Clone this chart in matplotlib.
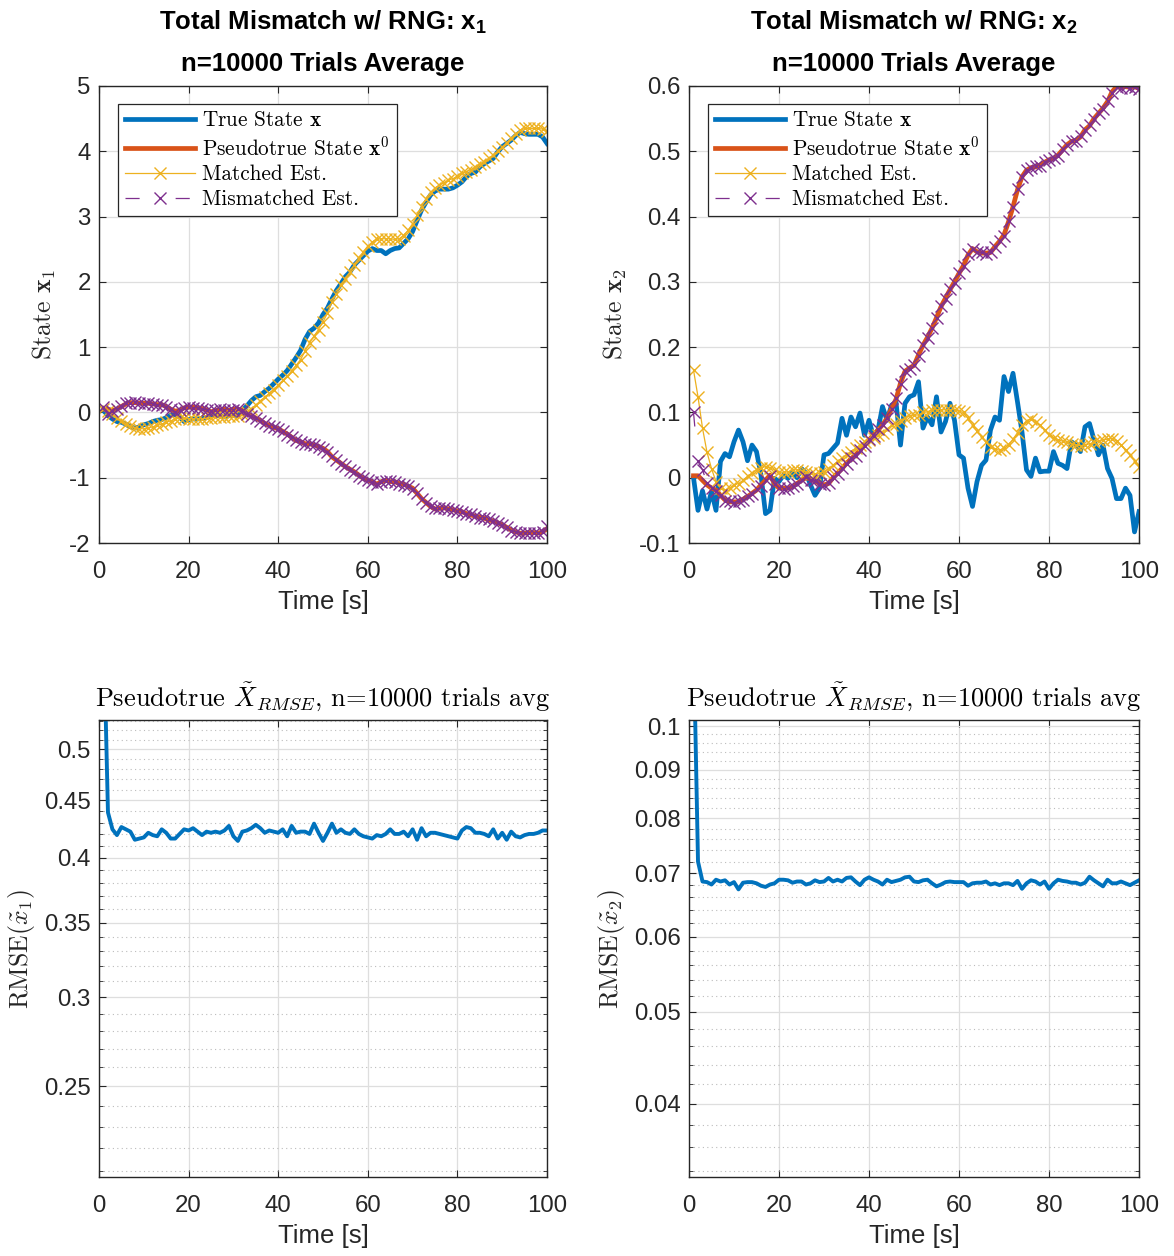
import numpy as np
import matplotlib
matplotlib.use("Agg")
import matplotlib.pyplot as plt
from matplotlib.font_manager import FontProperties
from matplotlib.ticker import FixedLocator, FuncFormatter, NullFormatter

# ---------------- data ----------------
t = list(range(1, 101))

x1_true = [0.03, -0.05, -0.10, -0.14, -0.15, -0.18, -0.22, -0.24, -0.22, -0.19,
           -0.17, -0.14, -0.12, -0.11, -0.08, -0.04, -0.03, -0.07, -0.14, -0.11,
           -0.10, -0.10, -0.09, -0.08, -0.05, -0.05, -0.05, -0.07, -0.05, -0.05,
           -0.04, 0.03, 0.10, 0.18, 0.24, 0.26, 0.32, 0.37, 0.44, 0.51,
           0.57, 0.64, 0.74, 0.84, 0.95, 1.12, 1.24, 1.29, 1.37, 1.50,
           1.60, 1.74, 1.87, 1.97, 2.08, 2.15, 2.26, 2.33, 2.40, 2.47,
           2.51, 2.48, 2.48, 2.43, 2.48, 2.51, 2.52, 2.59, 2.66, 2.77,
           2.94, 3.10, 3.22, 3.33, 3.39, 3.42, 3.42, 3.42, 3.44, 3.48,
           3.53, 3.61, 3.66, 3.68, 3.76, 3.81, 3.85, 3.89, 3.99, 4.07,
           4.12, 4.17, 4.24, 4.29, 4.27, 4.26, 4.26, 4.26, 4.22, 4.12]

x1_pseudo = [0.05, 0.05, 0.03, 0.05, 0.09, 0.13, 0.15, 0.15, 0.14, 0.14,
             0.14, 0.13, 0.12, 0.12, 0.09, 0.05, 0.02, 0.03, 0.07, 0.08,
             0.08, 0.07, 0.06, 0.04, 0.01, 0.03, 0.04, 0.05, 0.03, 0.05,
             0.05, 0.03, -0.02, -0.05, -0.09, -0.12, -0.17, -0.20, -0.23, -0.25,
             -0.29, -0.33, -0.38, -0.43, -0.45, -0.48, -0.48, -0.50, -0.52, -0.55,
             -0.60, -0.68, -0.73, -0.78, -0.83, -0.87, -0.91, -0.96, -1.01, -1.04,
             -1.06, -1.10, -1.06, -1.04, -1.06, -1.06, -1.09, -1.10, -1.13, -1.16,
             -1.24, -1.32, -1.38, -1.44, -1.48, -1.47, -1.46, -1.48, -1.49, -1.51,
             -1.52, -1.55, -1.57, -1.59, -1.60, -1.62, -1.65, -1.66, -1.69, -1.72,
             -1.76, -1.80, -1.83, -1.85, -1.85, -1.84, -1.84, -1.85, -1.83, -1.78]

x1_matched = [0.05, 0.02, -0.03, -0.08, -0.13, -0.18, -0.21, -0.24, -0.25, -0.25,
              -0.24, -0.22, -0.20, -0.18, -0.15, -0.13, -0.10, -0.09, -0.09, -0.10,
              -0.10, -0.10, -0.10, -0.09, -0.08, -0.07, -0.07, -0.07, -0.06, -0.06,
              -0.05, -0.03, 0.01, 0.06, 0.11, 0.18, 0.23, 0.29, 0.35, 0.42,
              0.49, 0.56, 0.63, 0.72, 0.81, 0.94, 1.07, 1.17, 1.27, 1.39,
              1.52, 1.69, 1.82, 1.95, 2.05, 2.15, 2.26, 2.36, 2.46, 2.55,
              2.61, 2.65, 2.66, 2.66, 2.66, 2.65, 2.66, 2.71, 2.79, 2.89,
              3.02, 3.15, 3.27, 3.37, 3.44, 3.48, 3.52, 3.56, 3.58, 3.62,
              3.66, 3.69, 3.72, 3.76, 3.80, 3.84, 3.89, 3.94, 4.00, 4.07,
              4.13, 4.20, 4.27, 4.32, 4.35, 4.35, 4.35, 4.35, 4.34, 4.31]

x1_mismatched = [0.08, -0.02, 0.02, 0.06, 0.10, 0.14, 0.15, 0.16, 0.14, 0.13,
                 0.14, 0.13, 0.11, 0.12, 0.08, 0.05, 0.01, 0.04, 0.07, 0.08,
                 0.07, 0.07, 0.05, 0.04, 0.02, 0.03, 0.05, 0.04, 0.03, 0.04,
                 0.05, 0.02, -0.02, -0.06, -0.09, -0.13, -0.16, -0.21, -0.23, -0.26,
                 -0.29, -0.34, -0.38, -0.42, -0.46, -0.48, -0.49, -0.50, -0.53, -0.56,
                 -0.61, -0.67, -0.73, -0.79, -0.82, -0.88, -0.91, -0.97, -1.00, -1.04,
                 -1.07, -1.09, -1.06, -1.05, -1.05, -1.07, -1.09, -1.11, -1.13, -1.17,
                 -1.23, -1.32, -1.39, -1.44, -1.47, -1.47, -1.47, -1.48, -1.50, -1.51,
                 -1.53, -1.55, -1.56, -1.59, -1.61, -1.62, -1.64, -1.67, -1.69, -1.73,
                 -1.76, -1.81, -1.83, -1.84, -1.85, -1.85, -1.84, -1.84, -1.83, -1.74]

x2_true = [0.000, -0.050, -0.020, -0.048, -0.021, -0.050, 0.025, 0.037, 0.032, 0.055,
           0.073, 0.055, 0.026, 0.050, 0.040, 0.004, -0.055, -0.050, -0.001, -0.006,
           0.004, -0.001, 0.009, 0.000, 0.014, 0.007, -0.011, -0.027, -0.016, 0.035,
           0.037, 0.045, 0.053, 0.091, 0.065, 0.093, 0.078, 0.099, 0.065, 0.088,
           0.063, 0.073, 0.109, 0.088, 0.111, 0.116, 0.050, 0.114, 0.124, 0.127,
           0.147, 0.076, 0.093, 0.081, 0.124, 0.070, 0.086, 0.114, 0.088, 0.035,
           0.030, -0.016, -0.044, -0.006, 0.019, 0.027, 0.073, 0.093, 0.088, 0.155,
           0.132, 0.160, 0.116, 0.070, 0.012, 0.002, 0.030, 0.009, 0.010, 0.010,
           0.040, 0.022, 0.019, 0.014, 0.055, 0.050, 0.040, 0.078, 0.083, 0.058,
           0.035, 0.050, 0.014, -0.001, -0.032, -0.032, -0.016, -0.027, -0.083, -0.052]

x2_pseudo = [0.003, 0.003, -0.004, -0.011, -0.016, -0.019, -0.027, -0.034, -0.037, -0.037,
             -0.037, -0.033, -0.029, -0.024, -0.019, -0.011, -0.004, 0.004, -0.009, -0.016,
             -0.016, -0.016, -0.014, -0.009, -0.004, 0.000, -0.002, -0.005, -0.009, -0.011,
             -0.009, 0.000, 0.007, 0.014, 0.022, 0.029, 0.035, 0.042, 0.050, 0.058,
             0.065, 0.073, 0.081, 0.091, 0.106, 0.120, 0.145, 0.163, 0.168, 0.172,
             0.188, 0.203, 0.215, 0.229, 0.245, 0.262, 0.275, 0.288, 0.300, 0.313,
             0.325, 0.341, 0.351, 0.346, 0.344, 0.344, 0.345, 0.354, 0.362, 0.372,
             0.392, 0.415, 0.441, 0.461, 0.471, 0.475, 0.476, 0.479, 0.483, 0.487,
             0.489, 0.494, 0.502, 0.510, 0.515, 0.517, 0.522, 0.533, 0.539, 0.550,
             0.558, 0.566, 0.576, 0.591, 0.599, 0.598, 0.599, 0.598, 0.599, 0.596]

x2_matched = [0.165, 0.124, 0.076, 0.039, 0.014, -0.006, -0.016, -0.019, -0.016, -0.011,
              -0.009, -0.004, 0.002, 0.007, 0.012, 0.015, 0.017, 0.015, 0.012, 0.009,
              0.008, 0.009, 0.012, 0.012, 0.010, 0.009, 0.007, 0.005, 0.007, 0.009,
              0.014, 0.019, 0.025, 0.030, 0.035, 0.040, 0.045, 0.050, 0.054, 0.058,
              0.061, 0.065, 0.069, 0.075, 0.080, 0.083, 0.087, 0.091, 0.095, 0.096,
              0.096, 0.100, 0.101, 0.104, 0.104, 0.104, 0.104, 0.104, 0.104, 0.102,
              0.100, 0.091, 0.081, 0.071, 0.063, 0.054, 0.047, 0.044, 0.042, 0.045,
              0.050, 0.059, 0.069, 0.080, 0.087, 0.090, 0.086, 0.080, 0.073, 0.066,
              0.061, 0.058, 0.056, 0.054, 0.052, 0.050, 0.049, 0.050, 0.052, 0.054,
              0.056, 0.058, 0.059, 0.060, 0.056, 0.050, 0.042, 0.035, 0.026, 0.017]

x2_mismatched = [0.100, 0.025, 0.012, -0.008, -0.015, -0.020, -0.026, -0.035, -0.036, -0.038,
                 -0.036, -0.034, -0.028, -0.025, -0.018, -0.012, -0.003, 0.003, -0.010, -0.015,
                 -0.017, -0.015, -0.013, -0.010, -0.004, 0.001, -0.003, -0.005, -0.010, -0.011,
                 -0.008, 0.001, 0.006, 0.015, 0.021, 0.030, 0.034, 0.043, 0.049, 0.059,
                 0.064, 0.074, 0.080, 0.092, 0.105, 0.122, 0.143, 0.164, 0.167, 0.173,
                 0.187, 0.204, 0.214, 0.230, 0.244, 0.263, 0.274, 0.289, 0.299, 0.314,
                 0.324, 0.342, 0.350, 0.345, 0.345, 0.343, 0.346, 0.353, 0.363, 0.371,
                 0.393, 0.414, 0.442, 0.460, 0.472, 0.474, 0.477, 0.478, 0.484, 0.486,
                 0.490, 0.493, 0.503, 0.509, 0.516, 0.516, 0.523, 0.532, 0.540, 0.549,
                 0.559, 0.565, 0.577, 0.590, 0.598, 0.597, 0.600, 0.597, 0.598, 0.595]

rmse1 = [0.650, 0.439, 0.424, 0.419, 0.426, 0.424, 0.422, 0.415, 0.416, 0.417,
         0.421, 0.419, 0.418, 0.424, 0.421, 0.416, 0.416, 0.420, 0.424, 0.423,
         0.425, 0.422, 0.419, 0.422, 0.421, 0.422, 0.421, 0.423, 0.427, 0.418,
         0.414, 0.422, 0.423, 0.425, 0.428, 0.425, 0.421, 0.423, 0.422, 0.421,
         0.424, 0.418, 0.427, 0.421, 0.422, 0.422, 0.420, 0.429, 0.421, 0.414,
         0.421, 0.429, 0.421, 0.424, 0.421, 0.420, 0.424, 0.420, 0.418, 0.417,
         0.416, 0.419, 0.418, 0.420, 0.424, 0.420, 0.420, 0.422, 0.418, 0.424,
         0.415, 0.425, 0.418, 0.421, 0.421, 0.420, 0.419, 0.418, 0.417, 0.416,
         0.423, 0.426, 0.425, 0.421, 0.421, 0.420, 0.418, 0.424, 0.416, 0.421,
         0.415, 0.422, 0.418, 0.417, 0.419, 0.420, 0.420, 0.421, 0.423, 0.423]

rmse2 = [0.1250, 0.0720, 0.0686, 0.0685, 0.0681, 0.0689, 0.0686, 0.0688, 0.0681, 0.0685,
         0.0673, 0.0684, 0.0685, 0.0685, 0.0683, 0.0679, 0.0677, 0.0681, 0.0683, 0.0689,
         0.0689, 0.0688, 0.0684, 0.0686, 0.0686, 0.0681, 0.0683, 0.0688, 0.0685, 0.0686,
         0.0692, 0.0686, 0.0689, 0.0686, 0.0692, 0.0693, 0.0686, 0.0680, 0.0689, 0.0693,
         0.0689, 0.0686, 0.0681, 0.0689, 0.0685, 0.0687, 0.0689, 0.0693, 0.0694, 0.0686,
         0.0685, 0.0688, 0.0689, 0.0683, 0.0678, 0.0681, 0.0685, 0.0686, 0.0685, 0.0685,
         0.0685, 0.0679, 0.0683, 0.0684, 0.0684, 0.0686, 0.0681, 0.0683, 0.0680, 0.0683,
         0.0683, 0.0680, 0.0687, 0.0674, 0.0683, 0.0688, 0.0686, 0.0681, 0.0686, 0.0674,
         0.0683, 0.0689, 0.0687, 0.0686, 0.0684, 0.0684, 0.0681, 0.0684, 0.0694, 0.0688,
         0.0683, 0.0678, 0.0689, 0.0683, 0.0683, 0.0686, 0.0683, 0.0680, 0.0684, 0.0688]

legend_labels = [r"True State $\mathbf{x}$", r"Pseudotrue State $\mathbf{x}^0$",
                 "Matched Est.", "Mismatched Est."]
xticks = [0, 20, 40, 60, 80, 100]
yticks_x1 = [-2, -1, 0, 1, 2, 3, 4, 5]
yticks_x2 = [-0.1, 0, 0.1, 0.2, 0.3, 0.4, 0.5, 0.6]
yticks_r1 = [0.25, 0.3, 0.35, 0.4, 0.45, 0.5]
yticks_r2 = [0.04, 0.05, 0.06, 0.07, 0.08, 0.09, 0.1]

# ---------------- style ----------------
plt.rcParams["font.family"] = ["Liberation Sans", "DejaVu Sans"]
plt.rcParams["axes.unicode_minus"] = False
plt.rcParams["mathtext.fontset"] = "custom"
plt.rcParams["mathtext.rm"] = "Liberation Sans"
plt.rcParams["mathtext.bf"] = "Liberation Sans:bold"
plt.rcParams["mathtext.it"] = "Liberation Sans:italic"

C_BLUE = "#0072BD"
C_RED = "#D95319"
C_YEL = "#EDB120"
C_PUR = "#7E2F8E"
C_AX = "#262626"
TICK_FS = 17.3
LAB_FS = 18.5
TEX = "cmr10"

W, H = 1174, 1256
fig = plt.figure(figsize=(W / 100, H / 100), dpi=100)


def pos(x0, x1, y0, y1):
    return [x0 / W, 1 - y1 / H, (x1 - x0) / W, (y1 - y0) / H]


ax_tl = fig.add_axes(pos(99, 547, 86, 543))
ax_tr = fig.add_axes(pos(689, 1139, 86, 543))
ax_bl = fig.add_axes(pos(99, 547, 720, 1177))
ax_br = fig.add_axes(pos(689, 1139, 720, 1177))

gfmt = FuncFormatter(lambda v, p: "%g" % round(v, 6))


def style(ax):
    for s in ax.spines.values():
        s.set_color(C_AX)
        s.set_linewidth(1.0)
    ax.tick_params(which="both", direction="in", top=True, right=True,
                   colors=C_AX, labelsize=TICK_FS)
    ax.tick_params(which="major", length=5, width=0.8)
    ax.tick_params(which="minor", length=3, width=0.6)
    ax.tick_params(axis="x", pad=13)
    ax.tick_params(axis="y", pad=6)
    ax.set_xlim(0, 100)
    ax.set_xticks(xticks)
    ax.set_axisbelow(True)
    ax.grid(True, which="major", color="#dedede", lw=0.9)
    ax.set_xlabel("Time [s]", fontsize=LAB_FS, color=C_AX)
    ax.xaxis.set_label_coords(0.5, -0.13)
    ax.xaxis.label.set_va("center")


leg_prop = FontProperties(family=TEX, size=15.3, math_fontfamily="cm")


def state_panel(ax, xt, xp, xm, xmm, yt, ylim, ylabel, title_sub, ylab_x):
    style(ax)
    h1, = ax.plot(t, xt, color=C_BLUE, lw=3.4, solid_joinstyle="round")
    h2, = ax.plot(t, xp, color=C_RED, lw=3.4, solid_joinstyle="round")
    h3, = ax.plot(t, xm, color=C_YEL, lw=0.9, marker="x", ms=8.5, mew=1.0)
    h4, = ax.plot(t, xmm, color=C_PUR, lw=0.9, marker="x", ms=8.5, mew=1.0,
                  dashes=(11.3, 28.8))
    ax.set_ylim(*ylim)
    ax.set_yticks(yt)
    ax.yaxis.set_major_formatter(gfmt)
    ax.set_ylabel(ylabel, fontsize=LAB_FS, family=TEX, math_fontfamily="cm",
                  color=C_AX)
    ax.yaxis.set_label_coords(ylab_x, 0.5)
    ax.yaxis.label.set_va("center")
    leg = ax.legend([h1, h2, h3, h4], legend_labels, loc="upper left",
                    bbox_to_anchor=(0.042, 0.961), borderaxespad=0,
                    prop=leg_prop, handlelength=3.3, handletextpad=0.35,
                    labelspacing=0.26, borderpad=0.32, fancybox=False,
                    framealpha=1, edgecolor="#262626", numpoints=1)
    leg.get_frame().set_linewidth(0.9)
    ax.text(0.5, 1.124, r"Total Mismatch w/ RNG: $\mathbf{x}_\mathbf{%s}$" % title_sub,
            transform=ax.transAxes, ha="center", va="baseline",
            fontsize=LAB_FS, fontweight="bold", color="black")
    ax.text(0.5, 1.0328, "n=10000 Trials Average", transform=ax.transAxes,
            ha="center", va="baseline", fontsize=LAB_FS, fontweight="bold",
            color="black")


state_panel(ax_tl, x1_true, x1_pseudo, x1_matched, x1_mismatched,
            yticks_x1, (-2, 5), r"State $\mathbf{x}_1$", "1", -0.123)
state_panel(ax_tr, x2_true, x2_pseudo, x2_matched, x2_mismatched,
            yticks_x2, (-0.1, 0.6), r"State $\mathbf{x}_2$", "2", -0.164)


def rmse_panel(ax, r, yt, ylim, minor, ylabel):
    style(ax)
    ax.plot(t, r, color=C_BLUE, lw=2.8, solid_joinstyle="round")
    ax.set_yscale("log")
    ax.set_ylim(*ylim)
    ax.yaxis.set_major_locator(FixedLocator(yt))
    ax.yaxis.set_minor_locator(FixedLocator(minor))
    ax.yaxis.set_major_formatter(gfmt)
    ax.yaxis.set_minor_formatter(NullFormatter())
    ax.grid(True, which="minor", axis="y", color="#bcbcbc", lw=0.8,
            ls=(0, (1, 3)))
    ax.set_ylabel(ylabel, fontsize=LAB_FS, family=TEX, math_fontfamily="cm",
                  color=C_AX)
    ax.yaxis.set_label_coords(-0.172, 0.5)
    ax.yaxis.label.set_va("center")
    ax.text(0.5, 1.0306, r"Pseudotrue $\tilde{X}_{RMSE}$, n=10000 trials avg",
            transform=ax.transAxes, ha="center", va="baseline",
            fontsize=19.0, family=TEX, math_fontfamily="cm", color="black")


minor1 = [v / 100 for v in range(21, 54) if v % 5 != 0]
minor2 = [v / 1000 for v in range(34, 101, 2) if v % 10 != 0]
rmse_panel(ax_bl, rmse1, yticks_r1, (0.2073, 0.531), minor1,
           r"RMSE$(\tilde{x}_1)$")
rmse_panel(ax_br, rmse2, yticks_r2, (0.0335, 0.1015), minor2,
           r"RMSE$(\tilde{x}_2)$")

fig.savefig("out.png", dpi=100)
